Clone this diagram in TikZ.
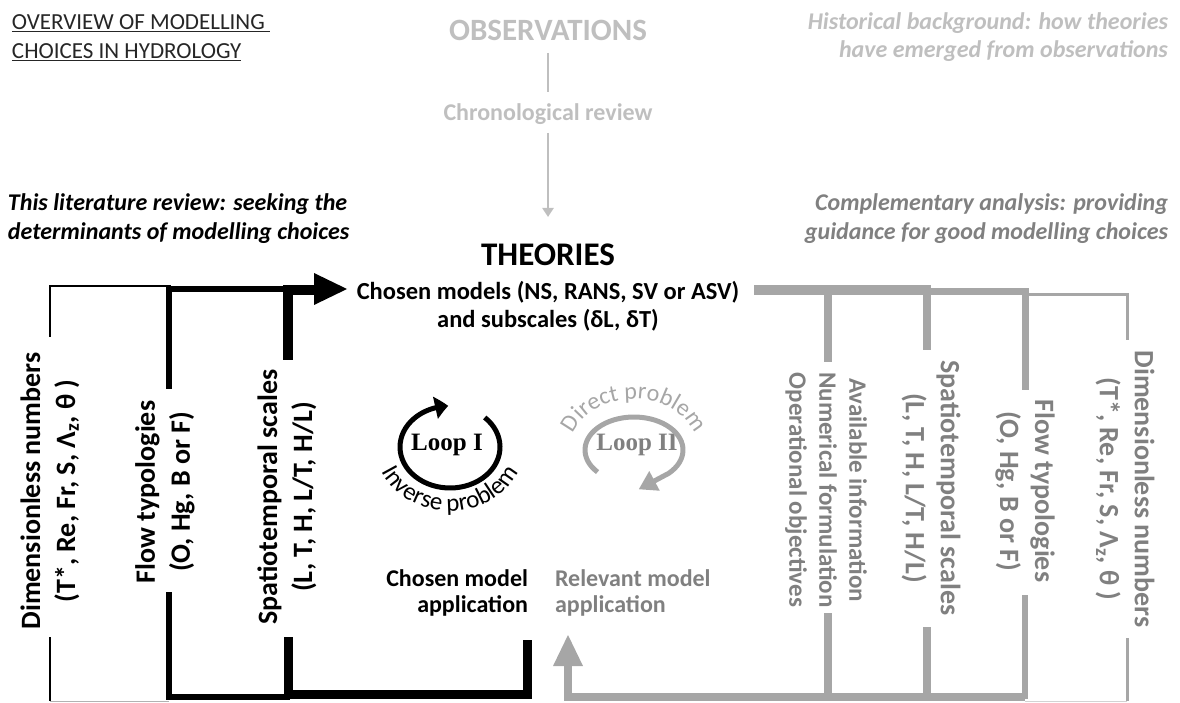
\documentclass[tikz,border=0pt]{standalone}
\usepackage{fontspec}
\setmainfont{Carlito}
\newfontfamily\loopfont{Liberation Serif}
\usetikzlibrary{arrows.meta,bending,decorations.text}
\definecolor{lgray}{HTML}{BFBFBF}
\definecolor{mgray}{HTML}{808080}
\definecolor{lngray}{HTML}{A6A6A6}
\definecolor{ttl}{HTML}{262626}
\newcommand\myfs[2]{\fontsize{#1}{#2}\selectfont}
\begin{document}
\begin{tikzpicture}[x=1pt,y=1pt,
  every node/.style={inner sep=0pt,outer sep=0pt},
  ln/.style={line join=miter},
  body/.style={font=\bfseries\myfs{24}{29}},
  ital/.style={font=\bfseries\itshape\myfs{24}{28}},
  rotl/.style={rotate=90,align=center,font=\bfseries\myfs{28}{35}},
  rotr/.style={rotate=-90,align=center,font=\bfseries\myfs{28}{35},text=mgray},
  looptxt/.style={font=\loopfont\bfseries\myfs{25}{28}}]
\useasboundingbox (0,0) rectangle (1180,702);

% ---------- header texts
\node[anchor=base west,text=ttl,font=\myfs{23}{28}] (t1) at (12,672) {\underline{OVERVIEW OF MODELLING\ }};
\node[anchor=base west,text=ttl,font=\myfs{23}{28}] (t2) at (12,643) {\underline{CHOICES IN HYDROLOGY}};
\node[text=lgray,font=\bfseries\myfs{31}{36}] (obs) at (548,672) {OBSERVATIONS};
\node[anchor=base,text=lgray,body] (chrono) at (548,581) {Chronological review};
\node[anchor=base east,text=lgray,ital] (h1) at (1168,672) {Historical background: how theories};
\node[anchor=base east,text=lgray,ital] (h2) at (1168,644) {have emerged from observations};
\node[anchor=base west,ital] (l1) at (8,491) {This literature review: seeking the};
\node[anchor=base west,ital] (l2) at (8,462) {determinants of modelling choices};
\node[anchor=base east,text=mgray,ital] (c1) at (1168,491) {Complementary analysis: providing};
\node[anchor=base east,text=mgray,ital] (c2) at (1168,462) {guidance for good modelling choices};
\node[anchor=base,font=\bfseries\myfs{33}{38}] (th) at (548,436) {THEORIES};
\node[anchor=base,font=\bfseries\myfs{24.5}{29}] (cm1) at (548,402) {Chosen models (NS, RANS, SV or ASV)};
\node[anchor=base,font=\bfseries\myfs{24.5}{29}] (cm2) at (548,374) {and subscales (δL, δT)};
\node[anchor=base east,body] (ch1) at (528,116) {Chosen model};
\node[anchor=base east,body] (ch2) at (528,90) {application};
\node[anchor=base west,body,text=mgray] (rv1) at (555,116) {Relevant model};
\node[anchor=base west,body,text=mgray] (rv2) at (555,90) {application};

\coordinate (obsA) at (548,649);
\coordinate (obsB) at (548,610);
\coordinate (chrA) at (548,569);
\coordinate (chrB) at (548,485);
\draw[lgray,line width=2.5] (obsA) -- (obsB);
\draw[lgray,line width=2.5,-{Triangle[length=9pt,width=11pt]}] (chrA) -- (chrB);

% ---------- rotated texts
\node[rotl] (dimL) at (50,211) {Dimensionless numbers\\(T*, Re, Fr, S, Λ\textsubscript{z}, θ~)};
\node[rotl] (flowL) at (165,210) {Flow typologies\\(O, Hg, B or F)};
\node[rotl] (spL) at (287,205) {Spatiotemporal scales\\(L, T, H, L/T, H/L)};
\node[rotate=-90,align=center,font=\bfseries\myfs{25}{30},text=mgray] (avR) at (826,212) {Available information\\Numerical formulation\\Operational objectives};
\node[rotr] (spR) at (931,214) {Spatiotemporal scales\\(L, T, H, L/T, H/L)};
\node[rotr] (flowR) at (1025,211) {Flow typologies\\(O, Hg, B or F)};
\node[rotr] (dimR) at (1125,213) {Dimensionless numbers\\(T*, Re, Fr, S, Λ\textsubscript{z}, θ~)};

% ---------- black structure
\draw[ln,line width=2] (50,365) -- (50,416) -- (171,416);
\draw[ln,line width=2] (50,65) -- (50,1);
\draw[black!30,line width=1.5] (50,0.75) -- (169,0.75);
\draw[ln,line width=6] (169,313) -- (169,413) -- (290,413);
\draw[ln,line width=6] (169,110) -- (169,5) -- (290,5);
\draw[ln,line width=10] (288,342) -- (288,412) -- (318,412);
\fill (314,429) -- (347,413) -- (314,397) -- cycle;
\draw[ln,line width=9] (288,65) -- (288,8) -- (527,8) -- (527,62);

% ---------- gray structure
\begin{scope}[lngray]
\draw[ln,line width=10] (754,412) -- (931,412);
\draw[ln,line width=8] (828,340) -- (828,412);
\draw[ln,line width=8] (927,352) -- (927,412);
\draw[ln,line width=7] (927,410) -- (1025,410) -- (1025,312);
\draw[ln,line width=3] (1025,407) -- (1127,407) -- (1127,362);
\draw[ln,line width=8] (568,38) -- (568,5) -- (931,5);
\draw[ln,line width=8] (828,89) -- (828,5);
\draw[ln,line width=8] (927,75) -- (927,5) -- (1025,5);
\draw[ln,line width=6] (1025,107) -- (1025,3);
\draw[ln,line width=3] (1127,64) -- (1127,1);
\draw[lngray!50,line width=1.5] (1025,0.75) -- (1127,0.75);
\fill (553,36) -- (568,67) -- (583,36) -- cycle;
\end{scope}

% ---------- loops
\coordinate (L1c) at (450,255);
\coordinate (L2c) at (634,252);
\node[looptxt] (loop1) at (447,257) {Loop I};
\node[looptxt,text=mgray] (loop2) at (637,257) {Loop II};
\draw[line width=5,-{Triangle[length=13pt,width=22pt,bend]}]
  ([shift={(46:50pt and 41pt)}]L1c) arc[start angle=46,end angle=-268,x radius=50pt,y radius=41pt];
\draw[lngray,line width=5,-{Triangle[length=18pt,width=21pt]}]
  ([shift={(222:49pt and 33pt)}]L2c) arc[start angle=222,end angle=-45,x radius=49pt,y radius=33pt]
  -- ++(-30,-16);
\path[decorate,decoration={text along path,text align=center,
  text={|\myfs{25}{28}|Inverse problem}}]
  ([shift={(190:74pt and 64pt)}]L1c) arc[start angle=190,end angle=350,x radius=74pt,y radius=64pt];
\path[decorate,decoration={text along path,text align=center,
  text={|\myfs{24}{28}\color{lngray}|Direct problem}}]
  ([shift={(175:64pt and 51pt)}]L2c) arc[start angle=175,end angle=5,x radius=64pt,y radius=51pt];
\end{tikzpicture}
\end{document}
